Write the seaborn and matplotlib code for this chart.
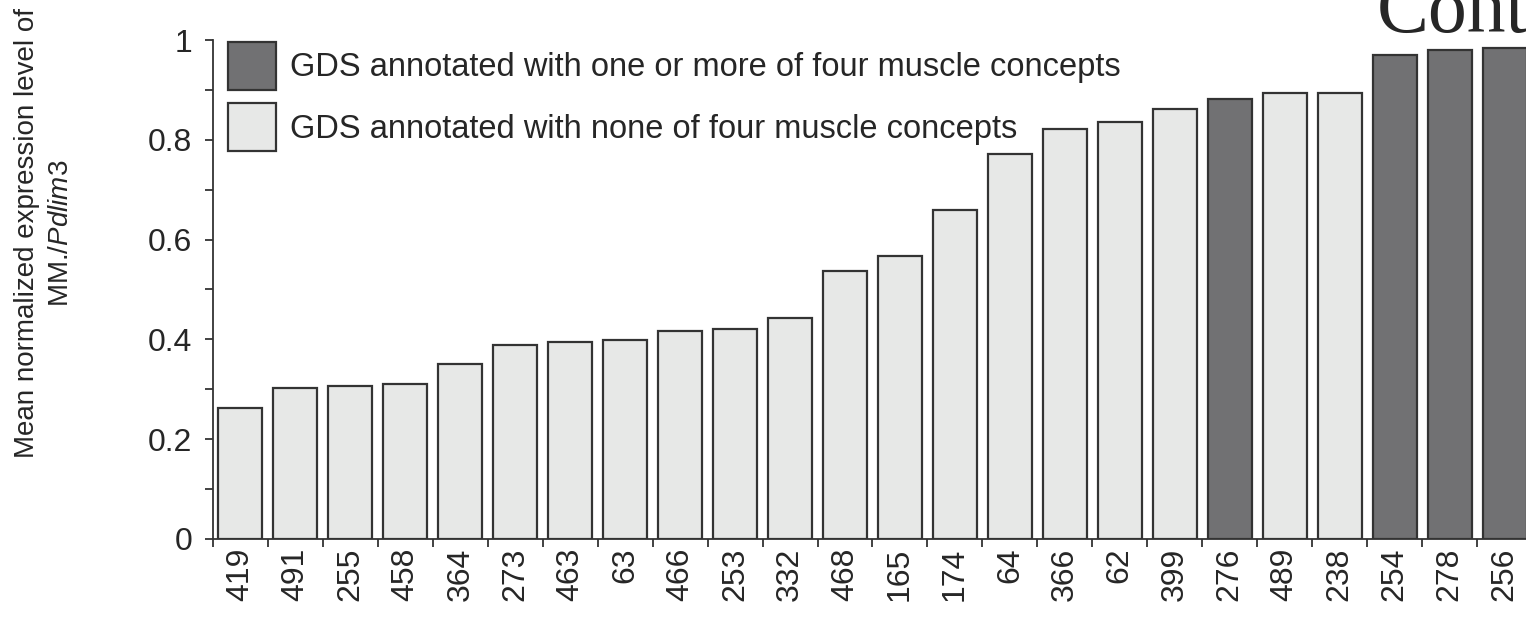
import matplotlib
matplotlib.use("Agg")
import matplotlib.pyplot as plt
import seaborn as sns
import pandas as pd
import numpy as np

# GDS ids in plotted order, their values and the annotation group
gds_ids = ["419", "491", "255", "458", "364", "273", "463", "63", "466", "253",
           "332", "468", "165", "174", "64", "366", "62", "399", "276", "489",
           "238", "254", "278", "256"]
expr_values = [0.263, 0.303, 0.307, 0.311, 0.351, 0.389, 0.395, 0.399, 0.417, 0.421,
               0.443, 0.537, 0.567, 0.659, 0.772, 0.822, 0.836, 0.862, 0.882, 0.894,
               0.894, 0.970, 0.980, 0.984]
muscle_ids = ["276", "254", "278", "256"]

label_muscle = "GDS annotated with one or more of four muscle concepts"
label_other = "GDS annotated with none of four muscle concepts"

df = pd.DataFrame({"gds": gds_ids, "value": expr_values})
df["group"] = np.where(df["gds"].isin(muscle_ids), label_muscle, label_other)

sns.set_style("ticks")
plt.rcParams["font.family"] = ["Liberation Sans", "DejaVu Sans"]
plt.rcParams["mathtext.fontset"] = "custom"
plt.rcParams["mathtext.rm"] = "Liberation Sans"
plt.rcParams["mathtext.it"] = "Liberation Sans:italic"

W, H = 1526, 617
fig = plt.figure(figsize=(W / 100, H / 100), dpi=100)
ax_left, ax_right, ax_top, ax_bot = 213, 1532, 40, 539
ax = fig.add_axes([ax_left / W, 1 - ax_bot / H, (ax_right - ax_left) / W, (ax_bot - ax_top) / H])

sns.barplot(data=df, x="gds", y="value", hue="group", order=gds_ids,
            hue_order=[label_muscle, label_other],
            palette={label_muscle: "#707074", label_other: "#e7e8e7"},
            dodge=False, width=0.8, edgecolor="#333333", linewidth=1.6, ax=ax)

ax.set_xlim(-0.5, len(gds_ids) - 0.5)
ax.set_ylim(0, 1)
ax.set_xlabel("")
ax.set_ylabel("")

# y ticks
ax.set_yticks([0, 0.2, 0.4, 0.6, 0.8, 1.0])
ax.set_yticklabels(["0", "0.2", "0.4", "0.6", "0.8", "1"])
ax.set_yticks(np.arange(0.1, 1.0, 0.2), minor=True)
ax.tick_params(axis="y", which="both", length=6, width=1.3, color="#333333",
               labelsize=23, pad=9)

# x ticks: marks at bar boundaries, labels at bar centres
ax.set_xticks(np.arange(len(gds_ids)))
ax.set_xticklabels(gds_ids, rotation=90)
ax.set_xticks(np.arange(-0.5, len(gds_ids) - 0.5, 1.0), minor=True)
ax.tick_params(axis="x", which="major", length=0, labelsize=23, pad=6)
ax.tick_params(axis="x", which="minor", length=6, width=1.3, color="#333333")

for side in ["top", "right"]:
    ax.spines[side].set_visible(False)
for side in ["left", "bottom"]:
    ax.spines[side].set_linewidth(1.3)
    ax.spines[side].set_color("#333333")

handles, labels = ax.get_legend_handles_labels()
ax.legend(handles, labels, loc="upper left", bbox_to_anchor=(0.0114, 0.996),
          frameon=False, fontsize=23.5, handlelength=1.47, handleheight=1.886,
          handletextpad=0.43, labelspacing=0.4, borderpad=0, borderaxespad=0)

fig.text(44 / W, 1 - 233 / H, "Mean normalized expression level of\nMM./$\\mathit{Pdlim3}$",
         rotation=90, ha="center", va="center", multialignment="center",
         fontsize=20, linespacing=1.35)

# running header of the source page, cut off at the right edge as in the original
fig.text(1377 / W, 1 - 32 / H, "Continued", fontsize=56,
         family=["Liberation Serif", "DejaVu Serif"], ha="left", va="baseline")

fig.savefig("out.png", dpi=100)
